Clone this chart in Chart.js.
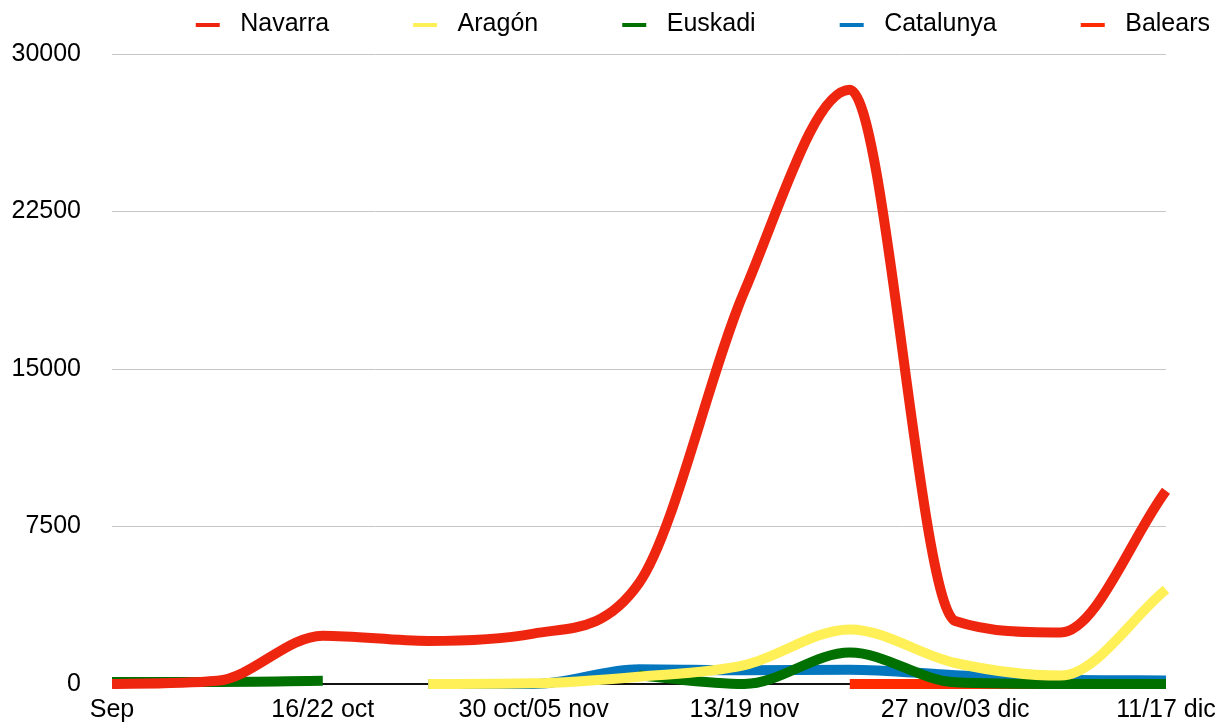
<!DOCTYPE html>
<html>
<head>
<meta charset="utf-8">
<script src="https://cdn.jsdelivr.net/npm/chart.js@4.4.1/dist/chart.umd.min.js"></script>
<style>
  html, body { margin: 0; padding: 0; background: #fff; overflow: hidden; }
  canvas { display: block; }
</style>
</head>
<body>
<canvas id="chart" width="1232" height="726"></canvas>
<script>
  /* weekly categories, only every other one is labelled on the axis */
  const weeks = ["Sep", "09/15 oct", "16/22 oct", "23/29 oct", "30 oct/05 nov", "06/12 nov",
                 "13/19 nov", "20/26 nov", "27 nov/03 dic", "04/10 dic", "11/17 dic"];

  const navarra   = [0, 150, 2300, 2050, 2400, 4800, 18700, 28300, 3000, 2450, 9200];
  const aragon    = [null, null, null, 0, 30, 350, 900, 2600, 1000, 400, 4500];
  const euskadi   = [100, 100, 150, null, null, 400, 0, 1500, 80, 0, 0];
  const catalunya = [null, null, null, 0, 0, 700, 650, 680, 420, 200, 170];
  const balears   = [null, null, null, null, null, null, null, 0, 0, 0, 0];

  const yTicks = [0, 7500, 15000, 22500, 30000];

  const C = {
    navarra:   "#ee2610",
    aragon:    "#fff058",
    euskadi:   "#007000",
    catalunya: "#0477bf",
    balears:   "#ff2a00"
  };

  const FONT = { family: "'Liberation Sans', Arial, sans-serif", size: 25 };

  /* legend mark: blank lead-in, 24px bar, small gap before the text */
  function legendMark(color) {
    const c = document.createElement("canvas");
    c.width = 104; c.height = 4;
    const g = c.getContext("2d");
    g.fillStyle = color;
    g.fillRect(72, 0, 24, 4);
    return c;
  }

  function series(label, data, color) {
    return {
      label: label, data: data,
      borderColor: color, backgroundColor: color,
      borderWidth: 10, pointRadius: 0, pointHoverRadius: 0,
      cubicInterpolationMode: "monotone",
      borderCapStyle: "butt", borderJoinStyle: "round",
      spanGaps: false, fill: false, clip: 8
    };
  }

  const legendHeight = {
    id: "legendHeight",
    beforeInit(chart) {
      if (!chart.legend) return;
      const fit = chart.legend.fit;
      chart.legend.fit = function () { fit.call(this); this.height = 54; };
    }
  };

  Chart.defaults.font.family = FONT.family;
  Chart.defaults.color = "#000";

  new Chart(document.getElementById("chart"), {
    type: "line",
    data: {
      labels: weeks,
      datasets: [
        series("Navarra", navarra, C.navarra),
        series("Aragón", aragon, C.aragon),
        series("Euskadi", euskadi, C.euskadi),
        series("Catalunya", catalunya, C.catalunya),
        series("Balears", balears, C.balears)
      ]
    },
    plugins: [legendHeight],
    options: {
      responsive: false,
      animation: false,
      layout: { padding: { left: 0, right: 10, top: 0, bottom: 0 } },
      plugins: {
        tooltip: { enabled: false },
        legend: {
          position: "top",
          align: "end",
          labels: {
            font: FONT,
            color: "#000",
            padding: 12,
            usePointStyle: true,
            pointStyleWidth: 104,
            generateLabels(chart) {
              return chart.data.datasets.map(function (ds, i) {
                return {
                  text: ds.label, fillStyle: ds.borderColor, strokeStyle: ds.borderColor,
                  lineWidth: 0, pointStyle: legendMark(ds.borderColor),
                  hidden: false, datasetIndex: i, fontColor: "#000"
                };
              });
            }
          }
        }
      },
      scales: {
        x: {
          grid: { display: false, drawTicks: false },
          border: { display: false },
          ticks: {
            font: FONT, color: "#000", padding: 11,
            autoSkip: false, maxRotation: 0, minRotation: 0,
            callback: function (v, i) { return i % 2 === 0 ? weeks[i] : ""; }
          },
          afterFit: function (s) { s.height = 42; s.paddingRight = 66; }
        },
        y: {
          min: 0, max: 30000,
          afterBuildTicks: function (s) { s.ticks = yTicks.map(function (v) { return { value: v }; }); },
          grid: {
            drawTicks: false,
            color: function (ctx) { return ctx.tick && ctx.tick.value === 0 ? "#111" : "#c6c6c6"; },
            lineWidth: function (ctx) { return ctx.tick && ctx.tick.value === 0 ? 2 : 1; }
          },
          border: { display: false },
          ticks: {
            font: FONT, color: "#000", padding: 31,
            callback: function (v) { return String(v); }
          },
          afterFit: function (s) { s.width = 112; s.paddingTop = 0; s.paddingBottom = 0; }
        }
      }
    }
  });
</script>
</body>
</html>
